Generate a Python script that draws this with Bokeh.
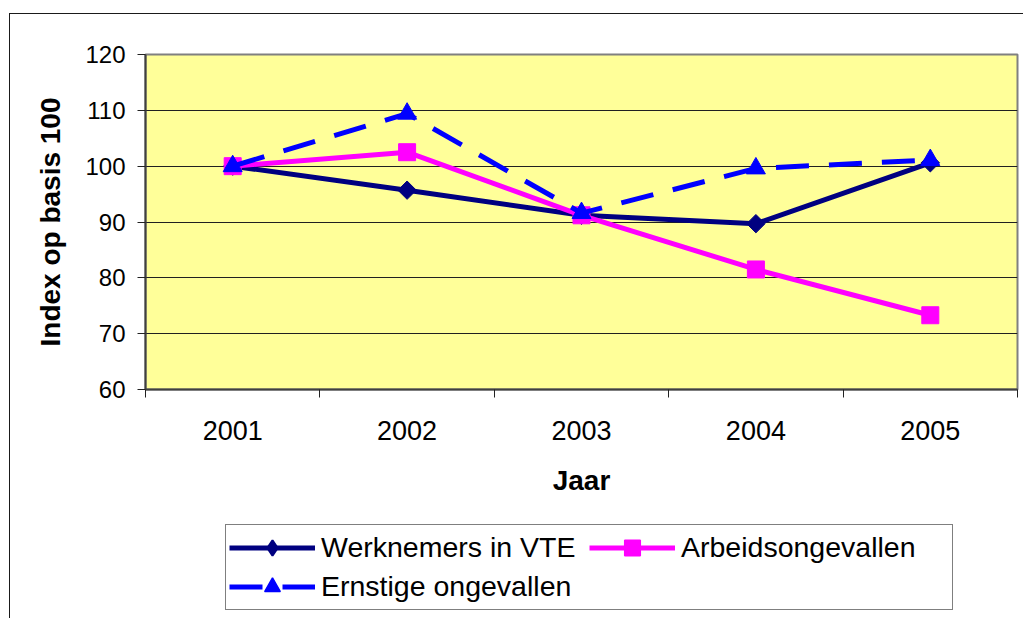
import math
from bokeh.plotting import figure
from bokeh.layouts import column
from bokeh.models import Range1d, FixedTicker, Legend, LegendItem
from bokeh.embed import file_html
from bokeh.resources import INLINE

years = ["2001", "2002", "2003", "2004", "2005"]
werknemers = [100.0, 95.7, 91.2, 89.7, 100.6]
arbeidsongevallen = [100.0, 102.5, 91.2, 81.5, 73.3]
ernstige = [100.0, 109.4, 91.6, 99.6, 101.1]
y_ticks = [60, 70, 80, 90, 100, 110, 120]
x_pos = list(range(1, len(years) + 1))

names = ["Werknemers in VTE", "Arbeidsongevallen", "Ernstige ongevallen"]
colors = ["#000080", "#FF00FF", "#0000FF"]

FONT = "Liberation Sans"

p = figure(width=1013, height=500, output_backend="svg", toolbar_location=None,
           x_range=Range1d(0.5, len(years) + 0.5), y_range=Range1d(60, 120),
           min_border_left=135, min_border_top=40, min_border_right=6,
           min_border_bottom=125)
p.background_fill_color = "#FFFF99"
p.border_fill_color = "white"
p.outline_line_color = "#808080"
p.outline_line_width = 2

# axes
p.xaxis.ticker = FixedTicker(ticks=x_pos, minor_ticks=[i + 0.5 for i in range(0, len(years) + 1)])
p.xaxis.major_label_overrides = {i + 1: y for i, y in enumerate(years)}
p.xaxis.major_tick_line_color = None
p.xaxis.major_tick_out = 8
p.xaxis.major_tick_in = 0
p.xaxis.minor_tick_line_color = "#222222"
p.xaxis.minor_tick_out = 8
p.xaxis.minor_tick_in = 0
p.xaxis.minor_tick_line_width = 1
p.xaxis.axis_line_color = "#404040"
p.xaxis.axis_line_width = 2
p.xaxis.major_label_text_font = FONT
p.xaxis.major_label_text_font_size = "27px"
p.xaxis.major_label_text_color = "black"
p.xaxis.major_label_standoff = 23
p.xaxis.axis_label = "Jaar"
p.xaxis.axis_label_text_font = FONT
p.xaxis.axis_label_text_font_style = "bold"
p.xaxis.axis_label_text_font_size = "28px"
p.xaxis.axis_label_text_color = "black"
p.xaxis.axis_label_standoff = 22

p.yaxis.ticker = FixedTicker(ticks=y_ticks)
p.yaxis.minor_tick_line_color = None
p.yaxis.major_tick_out = 8
p.yaxis.major_tick_in = 0
p.yaxis.major_tick_line_color = "#222222"
p.yaxis.axis_line_color = "#404040"
p.yaxis.axis_line_width = 2
p.yaxis.major_label_text_font = FONT
p.yaxis.major_label_text_font_size = "24px"
p.yaxis.major_label_text_color = "black"
p.yaxis.major_label_standoff = 12
p.yaxis.axis_label = "Index op basis 100"
p.yaxis.axis_label_text_font = FONT
p.yaxis.axis_label_text_font_style = "bold"
p.yaxis.axis_label_text_font_size = "28px"
p.yaxis.axis_label_text_color = "black"
p.yaxis.axis_label_standoff = 16

p.xgrid.grid_line_color = None
p.ygrid.grid_line_color = "#202020"
p.ygrid.grid_line_width = 1
p.ygrid.ticker = FixedTicker(ticks=y_ticks[1:-1])

# series
p.line(x_pos, werknemers, line_color=colors[0], line_width=5)
p.scatter(x_pos, werknemers, marker="square", angle=math.pi / 4, size=13,
          fill_color=colors[0], line_color=colors[0])
p.line(x_pos, arbeidsongevallen, line_color=colors[1], line_width=5)
p.scatter(x_pos, arbeidsongevallen, marker="square", size=17,
          fill_color=colors[1], line_color=colors[1])
p.line(x_pos, ernstige, line_color=colors[2], line_width=5, line_dash="33 20")
p.scatter(x_pos, ernstige, marker="triangle", size=19,
          fill_color=colors[2], line_color=colors[2])

# legend panel (separate figure below the chart); its ranges keep the
# duplicated series out of view so that only the legend shows
q = figure(width=1013, height=104, output_backend="svg", toolbar_location=None,
           x_range=Range1d(1000, 1001), y_range=Range1d(1000, 1001),
           x_axis_type=None, y_axis_type=None,
           min_border_left=0, min_border_right=0, min_border_top=0, min_border_bottom=0)
q.grid.grid_line_color = None
q.outline_line_color = None
q.background_fill_color = "white"

ql1 = q.line(x_pos, werknemers, line_color=colors[0], line_width=5)
qm1 = q.scatter(x_pos, werknemers, marker="diamond",
                fill_color=colors[0], line_color=colors[0], line_width=2)
ql2 = q.line(x_pos, arbeidsongevallen, line_color=colors[1], line_width=5)
qm2 = q.scatter(x_pos, arbeidsongevallen, marker="square",
                fill_color=colors[1], line_color=colors[1], line_width=1.5)
ql3 = q.line(x_pos, ernstige, line_color=colors[2], line_width=5, line_dash="33 20")
qm3 = q.scatter(x_pos, ernstige, marker="triangle",
                fill_color=colors[2], line_color=colors[2], line_width=1.5)

legend = Legend(items=[
    LegendItem(label=names[0], renderers=[ql1, qm1]),
    LegendItem(label=names[1], renderers=[ql2, qm2]),
    LegendItem(label=names[2], renderers=[ql3, qm3]),
], orientation="horizontal", ncols=2, location=(80, 8))
legend.label_text_font = FONT
legend.label_text_font_size = "28.5px"
legend.label_text_color = "black"
legend.glyph_width = 86
legend.glyph_height = 39
legend.label_width = 268
legend.label_standoff = 6
legend.padding = 3
legend.spacing = 0
legend.margin = 0
legend.border_line_color = "black"
legend.border_line_width = 1
legend.background_fill_color = "white"
legend.background_fill_alpha = 1
q.add_layout(legend, "center")

layout = column(p, q, spacing=0, margin=(13, 0, 0, 9),
                styles={"border-top": "1.5px solid #1a1a1a",
                        "border-left": "1.5px solid #1a1a1a"})

open("out.html", "w").write(file_html(layout, INLINE))
